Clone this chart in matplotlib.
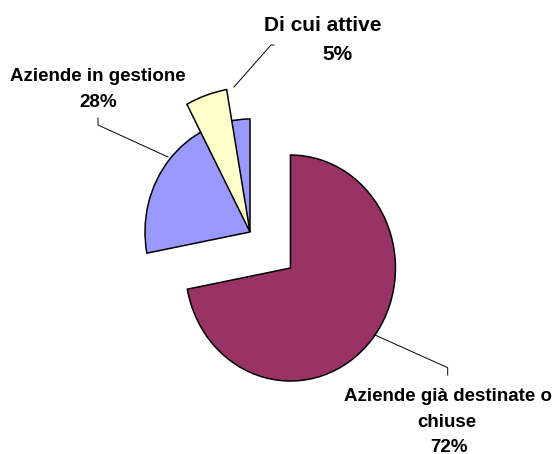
import matplotlib.pyplot as plt
from matplotlib.lines import Line2D

# Data
categories = ['Aziende già destinate o\nchiuse', 'Aziende in gestione']
values = [72, 28]
sub_category = 'Di cui attive'
sub_value = 5

colors = ['#993366', '#9999FF']
sub_color = '#FFFFCC'

W, H = 557, 454
fig = plt.figure(figsize=(W / 100, H / 100), dpi=100)
ax = fig.add_axes([0, 0, 1, 1])

edge = dict(edgecolor='black', linewidth=1.1)
ax.pie(values, colors=colors, startangle=90, counterclock=False,
       explode=[0.5, 0], wedgeprops=edge)

# "di cui" slice drawn over the blue one, a bit longer
sub_wedges, _ = ax.pie([sub_value, 100 - sub_value], colors=[sub_color, 'none'],
                       startangle=100, radius=1.28, wedgeprops=edge)
sub_wedges[1].set_visible(False)

# pie centre sits at (250, 232) px, radius about 105 x 113 px
cx, cy, rx, ry = 250, 232, 105, 113
ax.set_aspect('auto')
ax.set_xlim(-cx / rx, (W - cx) / rx)
ax.set_ylim(-(H - cy) / ry, cy / ry)
ax.axis('off')


# Labels and leader lines (pixel positions, y from top)
def put(text, x, y, size):
    fig.text(x / W, 1 - y / H, text, ha='center', va='baseline', fontsize=size,
             fontweight='bold', family=['Liberation Sans', 'DejaVu Sans'])


def leader(pts):
    xs = [p[0] / W for p in pts]
    ys = [1 - p[1] / H for p in pts]
    fig.add_artist(Line2D(xs, ys, color='black', lw=0.7))


big = categories[0].split('\n')
put(big[0], 448, 400.7, 13.5)
put(big[1], 446.7, 426.7, 13.5)
put(f'{values[0]}%', 449, 451.5, 13.5)
leader([(375, 335), (447.7, 367.7), (447.7, 375)])

put(categories[1], 97.5, 80.7, 13.5)
put(f'{values[1]}%', 98.5, 107.3, 13.5)
leader([(98, 118), (98, 125), (168, 157)])

put(sub_category, 323, 31, 15)
put(f'{sub_value}%', 337, 59.5, 15)
leader([(274, 45), (271, 45), (234, 87)])

fig.savefig('out.png', dpi=100)
